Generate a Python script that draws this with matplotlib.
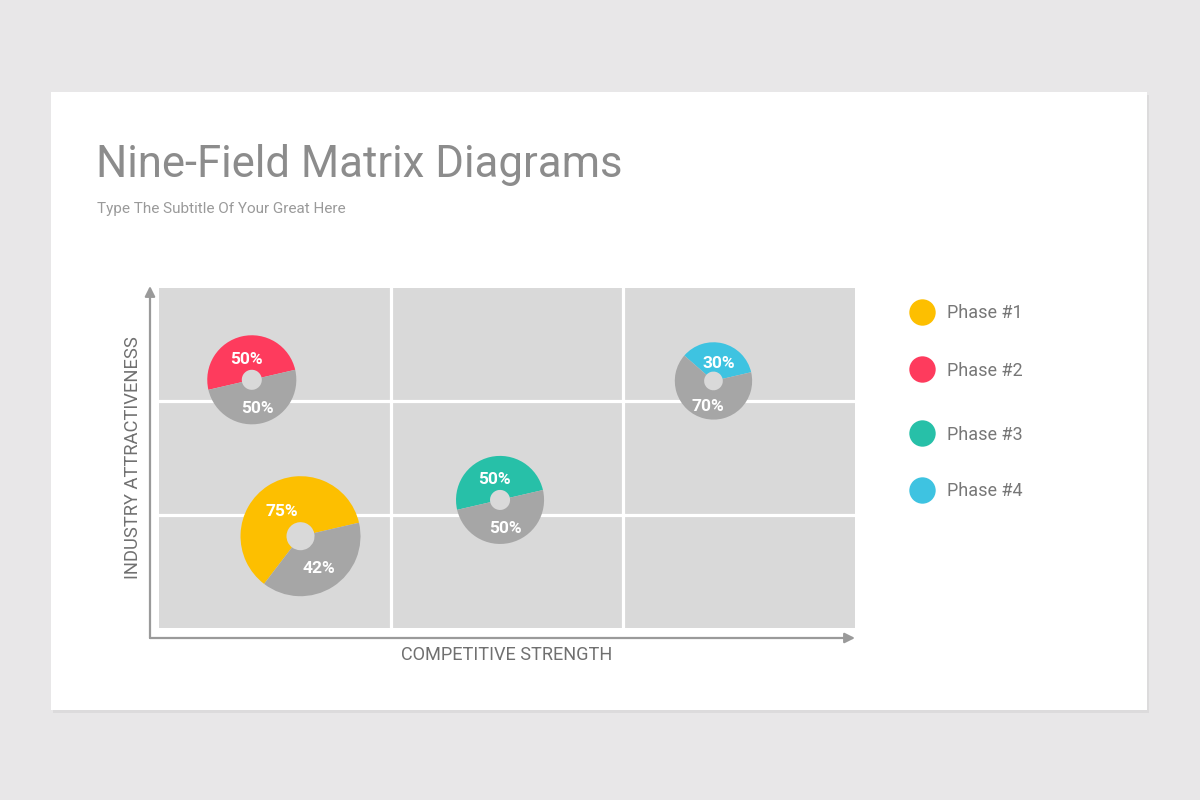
import matplotlib
matplotlib.use("Agg")
import matplotlib.pyplot as plt
from matplotlib.patches import Rectangle
from matplotlib.lines import Line2D
from matplotlib.transforms import offset_copy

# ---------------- data ----------------
phases = ["Phase #1", "Phase #2", "Phase #3", "Phase #4"]
phase_colors = ["#fdbf00", "#fe3b5d", "#27c0a8", "#3ec3e1"]
strength = [0.61, 0.40, 1.47, 2.39]          # column position (0-3)
attractiveness = [0.81, 2.19, 1.13, 2.18]    # row position (0-3)
slice_share = [0.61, 0.50, 0.50, 0.35]       # drawn share of coloured slice
phase_label = [75, 50, 50, 30]               # printed % on coloured slice
rest_label = [42, 50, 50, 70]                # printed % on grey slice
bubble_size = [0.706, 0.524, 0.518, 0.455]   # relative radius
hole_size = [0.165, 0.118, 0.118, 0.110]     # relative hole radius
legend_y_px = [312, 369, 433, 490]

title = "Nine-Field Matrix Diagrams"
subtitle = "Type The Subtitle Of Your Great Here"
xlabel = "COMPETITIVE STRENGTH"
ylabel = "INDUSTRY ATTRACTIVENESS"

# ---------------- style ----------------
W, H = 1200, 800
FONT = ["Roboto", "DejaVu Sans"]
plt.rcParams["font.family"] = FONT
GREY_SLICE = "#a6a6a6"
CELL = "#d9d9d9"
AXIS_C = "#9a9a9a"


def fx(px):
    return px / W


def fy(py):
    return 1 - py / H


fig = plt.figure(figsize=(12, 8), dpi=100, facecolor="#e8e7e8")

# card with shadow
fig.add_artist(Rectangle((fx(53), fy(713)), fx(1096), 618 / H,
                         transform=fig.transFigure, facecolor="#dcdbdc",
                         edgecolor="none", zorder=-3))
fig.add_artist(Rectangle((fx(51), fy(710)), fx(1096), 618 / H,
                         transform=fig.transFigure, facecolor="white",
                         edgecolor="none", zorder=-2))

# titles
fig.text(fx(96), fy(165), title, fontsize=31.5, color="#8c8c8c",
         va="center", ha="left")
fig.text(fx(97), fy(209), subtitle, fontsize=11, color="#9a9a9a",
         va="center", ha="left")

# matrix axes
ax = fig.add_axes([fx(159), fy(628), fx(696), 340 / H])
ax.set_zorder(1)
ax.set_facecolor(CELL)
ax.set_xlim(0, 3)
ax.set_ylim(0, 3)
for k in (1, 2):
    ax.axvline(k, color="white", lw=2.3)
    ax.axhline(k, color="white", lw=2.3)
ax.set_xticks([])
ax.set_yticks([])
for s in ax.spines.values():
    s.set_visible(False)

# axis arrows
ox, oy = (150 - 159) / 696, -(638 - 628) / 340
ax.annotate("", xy=(ox, (628 - 286) / 340), xytext=(ox, oy),
            xycoords="axes fraction", textcoords="axes fraction",
            arrowprops=dict(arrowstyle="-|>,head_length=0.6,head_width=0.3",
                            color=AXIS_C, lw=1.6, shrinkA=0, shrinkB=0),
            annotation_clip=False)
ax.annotate("", xy=(1.0, oy), xytext=(ox, oy),
            xycoords="axes fraction", textcoords="axes fraction",
            arrowprops=dict(arrowstyle="-|>,head_length=0.6,head_width=0.3",
                            color=AXIS_C, lw=1.6, shrinkA=0, shrinkB=0),
            annotation_clip=False)

fig.text(fx(507), fy(655), xlabel, fontsize=13.1, color="#707070",
         ha="center", va="center")
fig.text(fx(133), fy(458), ylabel, fontsize=13.2, color="#707070",
         ha="center", va="center", rotation=90)

# donut bubbles
for i in range(len(phases)):
    x, y = strength[i], attractiveness[i]
    ins = ax.inset_axes([x - 0.75, y - 0.75, 1.5, 1.5], transform=ax.transData)
    share = slice_share[i]
    r = bubble_size[i]
    wedges, texts = ins.pie(
        [share, 1 - share],
        colors=[phase_colors[i], GREY_SLICE],
        radius=r, startangle=13, counterclock=True,
        labels=[f"{phase_label[i]}%", f"{rest_label[i]}%"],
        labeldistance=0.57,
        wedgeprops=dict(width=r - hole_size[i], linewidth=0),
        textprops=dict(color="white", fontsize=12.5, fontweight="bold"),
    )
    for t in texts:
        t.set_ha("center")
        t.set_va("center")
        t.set_transform(offset_copy(t.get_transform(), fig=fig, y=-4, units="dots"))
    ins.set_xlim(-1, 1)
    ins.set_ylim(-1, 1)
    ins.set_aspect("equal")
    ins.axis("off")

# legend
for name, c, py in zip(phases, phase_colors, legend_y_px):
    fig.add_artist(Line2D([fx(922)], [fy(py)], marker="o", markersize=19,
                          color=c, markeredgewidth=0, linestyle="none",
                          transform=fig.transFigure))
    fig.text(fx(947), fy(py + 1.5), name, fontsize=13, color="#777777",
             ha="left", va="center")

fig.savefig("out.png", dpi=100, facecolor=fig.get_facecolor())
